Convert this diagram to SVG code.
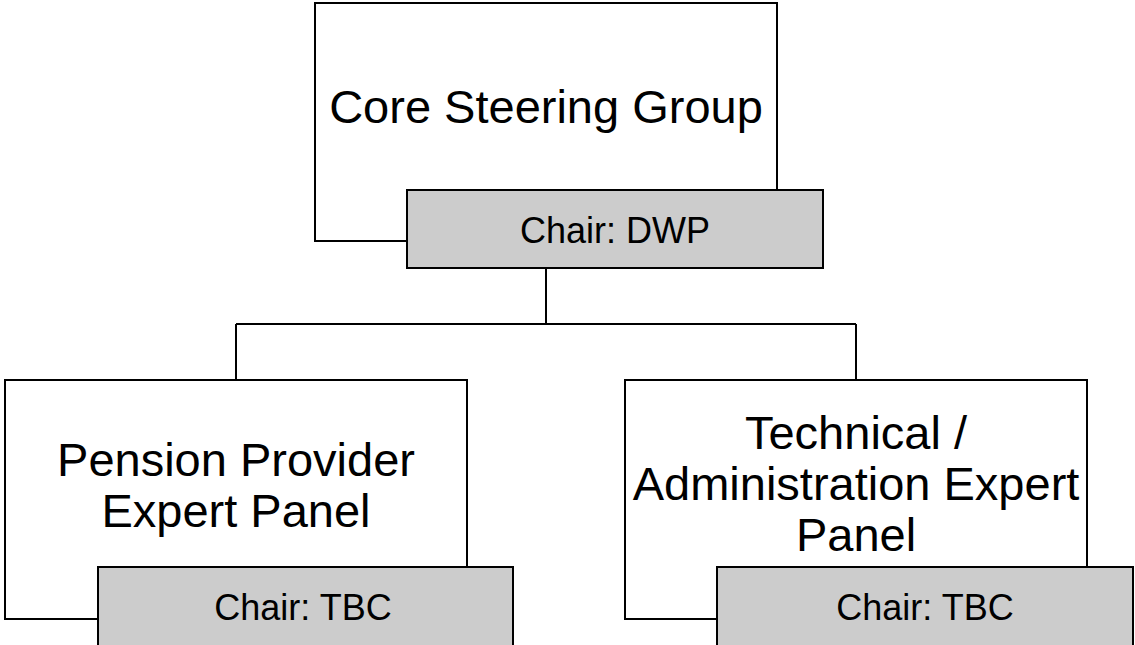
<svg xmlns="http://www.w3.org/2000/svg" width="1135" height="645" viewBox="0 0 1135 645">
  <style>
    .box { fill: #ffffff; stroke: #000000; stroke-width: 2; }
    .chair { fill: #cccccc; stroke: #000000; stroke-width: 2; }
    .title { font-family: "Liberation Sans", Arial, sans-serif; font-size: 47px; fill: #000000; text-anchor: middle; }
    .label { font-family: "Liberation Sans", Arial, sans-serif; font-size: 36px; fill: #000000; text-anchor: middle; }
    .link { fill: none; stroke: #000000; stroke-width: 2; }
  </style>
  <rect width="1135" height="645" fill="#ffffff"/>

  <!-- tree connectors -->
  <g id="connectors">
    <path class="link" d="M546 268 V324 M236 324 H856 M236 324 V380 M856 324 V380"/>
  </g>

  <!-- steering group -->
  <g id="core-steering-group">
    <rect class="box" x="315" y="3" width="462" height="238"/>
    <text class="title" x="546" y="123">Core Steering Group</text>
    <rect class="chair" x="407" y="190" width="416" height="78"/>
    <text class="label" x="615" y="243">Chair: DWP</text>
  </g>

  <!-- pension provider panel -->
  <g id="pension-provider-panel">
    <rect class="box" x="5" y="380" width="462" height="239"/>
    <text class="title" x="236" y="476">Pension Provider</text>
    <text class="title" x="236" y="527">Expert Panel</text>
    <rect class="chair" x="98" y="567" width="415" height="80"/>
    <text class="label" x="303" y="620">Chair: TBC</text>
  </g>

  <!-- technical / administration panel -->
  <g id="technical-admin-panel">
    <rect class="box" x="625" y="380" width="462" height="239"/>
    <text class="title" x="856" y="449">Technical /</text>
    <text class="title" x="856" y="500">Administration Expert</text>
    <text class="title" x="856" y="551">Panel</text>
    <rect class="chair" x="717" y="567" width="416" height="80"/>
    <text class="label" x="925" y="620">Chair: TBC</text>
  </g>
</svg>
